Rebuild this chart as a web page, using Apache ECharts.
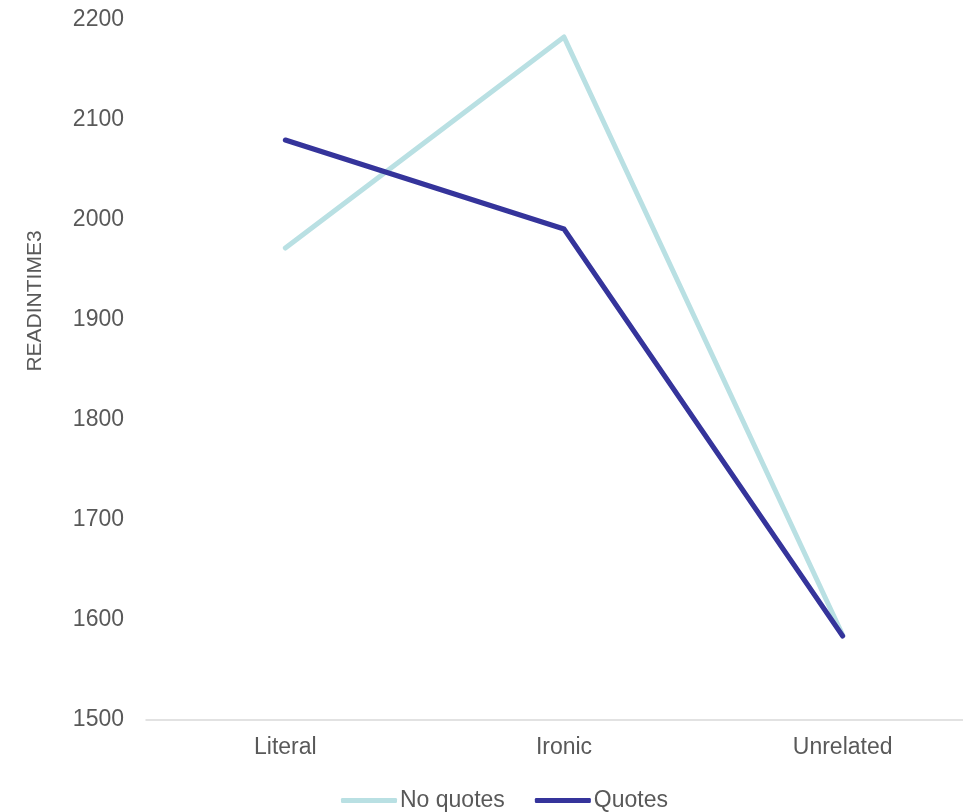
<!DOCTYPE html>
<html>
<head>
<meta charset="utf-8">
<script src="https://cdn.jsdelivr.net/npm/echarts@6/dist/echarts.min.js"></script>
<style>
  html, body { margin: 0; padding: 0; background: #ffffff; }
  #chart { width: 963px; height: 812px; }
</style>
</head>
<body>
<div id="chart"></div>
<script>
// Mean reading times per condition
const categories = ['Literal', 'Ironic', 'Unrelated'];
const noQuotes = [1972, 2183, 1585];
const quotes = [2080, 1991, 1584];
const seriesNames = ['No quotes', 'Quotes'];
const yTicks = { min: 1500, max: 2200, step: 100 };

const textColor = '#595959';
const fontFamily = 'Liberation Sans, Arial, sans-serif';

const chart = echarts.init(document.getElementById('chart'), null, { renderer: 'canvas' });

chart.setOption({
  animation: false,
  backgroundColor: '#ffffff',
  grid: {
    left: 146, width: 836, top: 20, height: 700,
    containLabel: false, outerBoundsMode: 'none'
  },
  legend: {
    data: seriesNames,
    left: 341,
    top: 789,
    padding: 0,
    itemWidth: 56,
    itemHeight: 5,
    itemGap: 30,
    icon: 'roundRect',
    textStyle: { color: textColor, fontSize: 23, fontFamily: fontFamily, padding: [0, 0, 0, -2] }
  },
  xAxis: {
    type: 'category',
    data: categories,
    boundaryGap: true,
    axisLine: { show: true, lineStyle: { color: '#d9d9d9', width: 1.5 } },
    axisTick: { show: false },
    axisLabel: { color: textColor, fontSize: 23, fontFamily: fontFamily, margin: 16 },
    splitLine: { show: false }
  },
  yAxis: {
    type: 'value',
    min: yTicks.min,
    max: yTicks.max,
    interval: yTicks.step,
    name: 'READINTIME3',
    nameLocation: 'middle',
    nameRotate: 90,
    nameGap: 100,
    nameTextStyle: { color: textColor, fontSize: 21, fontFamily: fontFamily, padding: [0, 0, 0, 138] },
    axisLine: { show: false },
    axisTick: { show: false },
    splitLine: { show: false },
    axisLabel: {
      color: textColor, fontSize: 23, fontFamily: fontFamily, margin: 22,
      formatter: function (v) { return String(v); }
    }
  },
  series: [
    {
      name: seriesNames[0],
      type: 'line',
      data: noQuotes,
      symbol: 'none',
      color: '#b9e0e3',
      lineStyle: { width: 5, color: '#b9e0e3', cap: 'round', join: 'round' }
    },
    {
      name: seriesNames[1],
      type: 'line',
      data: quotes,
      symbol: 'none',
      color: '#35349b',
      lineStyle: { width: 5, color: '#35349b', cap: 'round', join: 'round' }
    }
  ]
});
</script>
</body>
</html>
